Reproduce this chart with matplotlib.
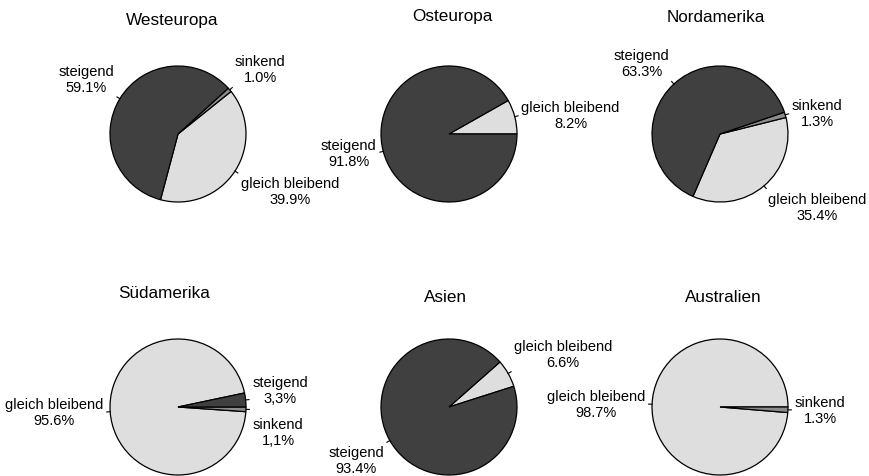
import numpy as np
import matplotlib.pyplot as plt

plt.rcParams['font.family'] = ['Liberation Sans', 'DejaVu Sans']

# DATEN (Anteile in %)
regionen = ['Westeuropa', 'Osteuropa', 'Nordamerika', 'Südamerika', 'Asien', 'Australien']
kategorien = ['gleich bleibend', 'sinkend', 'steigend']
westeuropa = [39.9, 1.0, 59.1]
osteuropa = [8.2, 0.0, 91.8]
nordamerika = [35.4, 1.3, 63.3]
suedamerika = [95.6, 1.1, 3.3]
asien = [6.6, 0.0, 93.4]
australien = [98.7, 1.3, 0.0]
werte = [westeuropa, osteuropa, nordamerika, suedamerika, asien, australien]
# diese Werte sind mit Dezimalkomma beschriftet
komma = {('Südamerika', 'steigend'), ('Südamerika', 'sinkend')}

# LAYOUT (Pixel, y von oben)
W, H = 869, 477
R = 68
zentren = [(178, 135), (449, 135), (720, 135), (178, 408), (449, 408), (720, 408)]
startwinkel = [255.1, 0, 246.6, 11.9, 17.7, 0]
titel_pos = [(172, 21), (452, 16), (716, 18), (164, 293), (445, 298), (723, 298)]
farben = {'gleich bleibend': '#dedede', 'sinkend': '#8c8c8c', 'steigend': '#404040'}

fig = plt.figure(figsize=(W / 100, H / 100), dpi=100)
ax = fig.add_axes([0, 0, 1, 1])

for name, w, (cx, cy), start, (tx0, ty0) in zip(regionen, werte, zentren, startwinkel, titel_pos):
    cy = H - cy
    cats = [k for k, v in zip(kategorien, w) if v > 0]
    vals = [v for v in w if v > 0]
    wedges, _ = ax.pie(vals, colors=[farben[k] for k in cats], startangle=start,
                       counterclock=True, center=(cx, cy), radius=R,
                       wedgeprops=dict(edgecolor='black', linewidth=0.9))

    labels = []
    for wdg, cat, v in zip(wedges, cats, vals):
        th = np.deg2rad((wdg.theta1 + wdg.theta2) / 2)
        c, s = np.cos(th), np.sin(th)
        ax.plot([cx + R * c, cx + 1.05 * R * c], [cy + R * s, cy + 1.05 * R * s],
                color='black', lw=0.8)
        lx, ly = cx + 1.1 * R * c, cy + 1.1 * R * s
        if s > 0.4:
            ly += 16
        elif s < -0.4:
            ly -= 16
        pct = f'{v:.1f}%'
        if (name, cat) in komma:
            pct = pct.replace('.', ',')
        labels.append([lx, ly, c, f'{cat}\n{pct}'])

    # Beschriftungen auf derselben Seite auseinanderschieben
    for seite in (1, -1):
        grp = sorted([l for l in labels if np.sign(l[2]) == seite], key=lambda l: -l[1])
        for a, b in zip(grp, grp[1:]):
            gap = a[1] - b[1]
            if gap < 42:
                d = 42 - gap
                a[1] += 0.3 * d
                b[1] -= 0.7 * d

    for lx, ly, c, txt in labels:
        ax.text(lx, ly, txt, ha='right' if c < 0 else 'left', va='center',
                multialignment='center', fontsize=10.5, linespacing=1.2)

    ax.text(tx0, H - ty0, name, ha='center', va='center', fontsize=12.3)

ax.set_xlim(0, W)
ax.set_ylim(0, H)
ax.set_aspect('equal')
ax.axis('off')

fig.savefig('out.png', dpi=100)
